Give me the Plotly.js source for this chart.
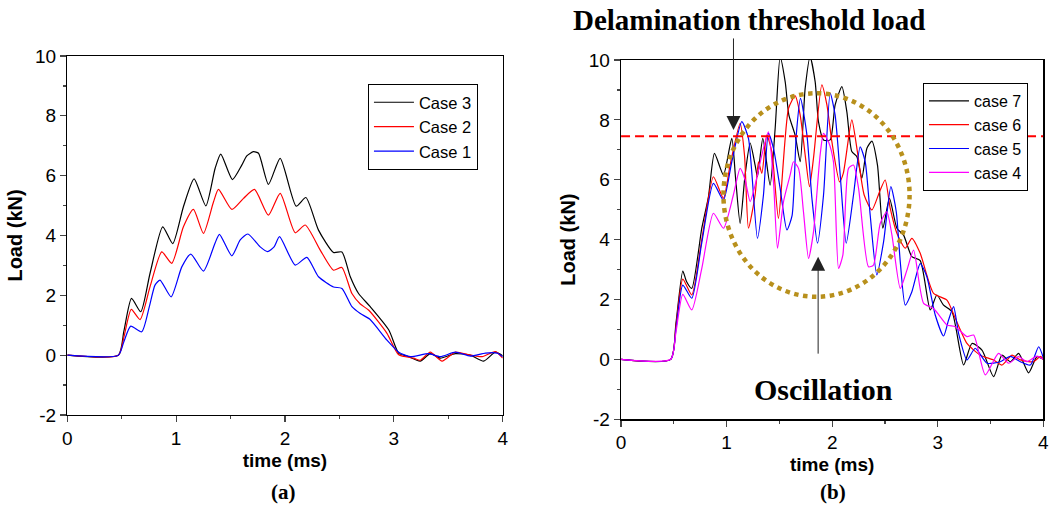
<!DOCTYPE html>
<html>
<head>
<meta charset="utf-8">
<script src="https://cdn.plot.ly/plotly-3.0.1.min.js"></script>
<style>html,body{margin:0;padding:0;background:#fff;}#chart{width:1051px;height:508px;}</style>
</head>
<body>
<div id="chart"></div>
<script>
// ---------- Panel (a) ----------
const tCase3 = [0,0.47,0.52,0.59,0.675,0.76,0.877,0.969,1.067,1.165,1.273,1.358,1.41,1.517,1.603,1.649,1.71,1.757,1.848,1.956,2.103,2.192,2.308,2.446,2.523,2.6,2.676,2.783,2.954,3.045,3.121,3.243,3.335,3.427,3.565,3.703,3.825,3.933,4.0];
const loadCase3 = [0,0,0.8,1.9,1.45,2.73,4.29,3.73,4.96,5.89,4.99,6.24,6.72,5.87,6.35,6.66,6.80,6.75,5.71,6.58,4.98,5.27,4.18,3.43,3.45,2.62,2.06,1.62,0.84,0.06,-0.03,-0.2,0.05,-0.1,0.05,0.0,-0.2,0.1,-0.02];

const tCase2 = [0,0.47,0.52,0.588,0.669,0.76,0.868,0.96,1.067,1.159,1.251,1.343,1.389,1.512,1.619,1.72,1.848,1.956,2.094,2.186,2.324,2.446,2.523,2.615,2.692,2.77,2.937,3.045,3.182,3.243,3.335,3.443,3.565,3.703,3.811,3.933,4.0];
const loadCase2 = [0,0,0.6,1.53,1.19,2.28,3.45,3.07,4.29,4.87,4.07,5.12,5.54,4.87,5.24,5.54,4.68,5.41,4.09,4.35,3.51,2.84,2.93,2.06,1.71,1.5,0.73,0.01,-0.1,-0.17,0.1,-0.2,0.1,0.0,-0.05,0.12,-0.1];

const tCase1 = [0,0.47,0.52,0.583,0.684,0.754,0.806,0.852,0.954,1.052,1.135,1.251,1.358,1.398,1.512,1.589,1.659,1.772,1.84,1.9,1.95,2.094,2.201,2.308,2.446,2.523,2.615,2.692,2.78,2.937,3.045,3.151,3.32,3.427,3.565,3.703,3.841,3.949,4.0];
const loadCase1 = [0,0,0.45,0.97,0.78,1.62,2.34,2.51,1.95,2.95,3.38,2.81,3.75,4.04,3.32,3.85,4.05,3.62,3.46,3.62,3.96,3.01,3.27,2.62,2.28,2.23,1.62,1.39,1.2,0.5,0.1,-0.05,0.05,-0.05,0.1,-0.03,0.07,0.07,-0.05];

// ---------- Panel (b) ----------
const tCase7 = [0,0.47,0.52,0.585,0.62,0.67,0.765,0.828,0.885,0.97,1.049,1.085,1.128,1.175,1.223,1.27,1.292,1.343,1.412,1.46,1.507,1.555,1.59,1.649,1.697,1.744,1.791,1.839,1.87,1.918,1.981,2.028,2.092,2.139,2.186,2.234,2.281,2.329,2.376,2.429,2.48,2.543,2.613,2.676,2.755,2.834,2.929,2.992,3.055,3.135,3.245,3.324,3.419,3.529,3.608,3.687,3.766,3.861,3.94,4.0];
const loadCase7 = [0,0,1.2,2.95,2.6,2.37,4.38,5.43,6.88,6.16,7.38,6.05,4.54,6.16,7.22,6.49,6.10,7.38,5.82,7.72,10.1,9.27,8.16,7.49,6.60,9.05,10.1,9.27,7.94,7.33,7.33,8.50,9.11,8.27,6.94,6.77,6.05,7.05,7.29,6.49,4.38,5.38,4.38,4.15,3.43,3.3,1.65,2.15,1.81,1.59,-0.19,0.53,0.31,-0.58,0.14,-0.08,0.2,-0.45,0.09,0.0];

const tCase6 = [0,0.47,0.52,0.585,0.67,0.765,0.875,0.97,1.033,1.128,1.17,1.207,1.27,1.302,1.334,1.381,1.43,1.491,1.586,1.649,1.697,1.744,1.785,1.823,1.902,1.95,1.997,2.07,2.105,2.186,2.234,2.303,2.376,2.449,2.502,2.55,2.613,2.692,2.755,2.834,2.961,3.087,3.166,3.277,3.403,3.529,3.608,3.703,3.782,3.908,3.972,4.0];
const loadCase6 = [0,0,1.1,2.68,2.15,4.0,6.10,5.38,6.49,7.88,6.8,4.38,5.49,6.60,6.21,7.49,6.9,4.71,8.38,8.8,8.16,6.83,5.77,6.72,9.17,8.50,7.27,5.93,6.21,8.00,7.05,5.49,4.99,5.60,5.99,5.04,4.21,3.71,4.04,3.54,2.2,1.98,1.37,0.53,0.14,-0.02,-0.19,0.14,-0.02,-0.08,0.1,0.0];

const tCase5 = [0,0.47,0.52,0.585,0.67,0.765,0.875,0.97,1.049,1.144,1.207,1.292,1.349,1.396,1.444,1.507,1.571,1.62,1.66,1.70,1.761,1.808,1.861,1.918,1.981,2.028,2.076,2.133,2.202,2.265,2.313,2.36,2.423,2.487,2.556,2.607,2.645,2.692,2.755,2.834,2.897,2.976,3.055,3.102,3.15,3.197,3.277,3.355,3.466,3.592,3.687,3.782,3.877,3.956,4.0];
const loadCase5 = [0,0,1.0,2.48,2.04,3.9,5.88,5.32,6.60,7.94,7.38,4.04,5.49,7.55,7.05,5.71,4.32,4.8,7.5,8.72,7.49,5.38,3.88,5.49,8.89,8.16,6.16,3.88,5.49,7.10,6.60,4.82,2.82,3.93,5.77,4.93,3.26,1.81,2.26,3.2,2.76,1.48,0.78,1.31,1.76,0.87,-0.02,0.37,-0.13,-0.08,0.1,-0.08,-0.19,0.42,0.05];

const tCase4 = [0,0.47,0.52,0.585,0.67,0.765,0.875,0.97,1.064,1.128,1.175,1.223,1.27,1.334,1.396,1.444,1.482,1.539,1.602,1.633,1.681,1.728,1.776,1.823,1.886,1.918,1.965,2.012,2.06,2.101,2.155,2.202,2.25,2.344,2.391,2.455,2.518,2.566,2.645,2.708,2.771,2.866,2.961,3.087,3.166,3.277,3.34,3.45,3.576,3.671,3.766,3.845,3.94,4.0];
const loadCase4 = [0,0,0.9,2.17,1.65,3.04,4.88,4.38,5.49,6.38,6.0,5.27,5.82,6.83,7.60,5.93,3.71,5.27,6.16,6.60,6.38,4.93,3.37,4.26,6.83,7.55,7.27,6.60,3.04,3.48,6.38,6.49,5.71,3.09,3.15,4.54,4.93,4.15,2.37,2.98,3.65,1.87,1.70,1.15,1.09,0.76,0.81,-0.52,0.2,-0.13,0.09,-0.08,0.11,0.0];

const thresholdLoad = 7.45;
const xTicks = [0,1,2,3,4];
const xTickText = ['0','1','2','3','4'];
const yTicks = [-2,0,2,4,6,8,10];
const yTickText = ['-2','0','2','4','6','8','10'];

const sans = 'Liberation Sans, Arial, sans-serif';
const serif = 'Liberation Serif, Times New Roman, serif';

function tr(x, y, name, color, xa, ya, leg) {
  return {x: x, y: y, name: name, type: 'scatter', mode: 'lines',
    line: {color: color, width: 1.2, shape: 'spline', smoothing: 0.6},
    xaxis: xa, yaxis: ya, legend: leg, hoverinfo: 'skip'};
}

const data = [
  tr(tCase3, loadCase3, 'Case 3', '#000000', 'x', 'y', 'legend'),
  tr(tCase2, loadCase2, 'Case 2', '#ff0000', 'x', 'y', 'legend'),
  tr(tCase1, loadCase1, 'Case 1', '#0000ff', 'x', 'y', 'legend'),
  tr(tCase7, loadCase7, 'case 7', '#000000', 'x2', 'y2', 'legend2'),
  tr(tCase6, loadCase6, 'case 6', '#ff0000', 'x2', 'y2', 'legend2'),
  tr(tCase5, loadCase5, 'case 5', '#0000ff', 'x2', 'y2', 'legend2'),
  tr(tCase4, loadCase4, 'case 4', '#ff00ff', 'x2', 'y2', 'legend2')
];

function mainX(domain, anchor) {
  return {domain: domain, anchor: anchor, range: [0,4], tickmode: 'array', tickvals: xTicks, ticktext: xTickText,
    ticks: 'outside', ticklen: 6, tickwidth: 1.2,
    minor: {ticks: 'outside', ticklen: 3, dtick: 0.5, tick0: 0, tickwidth: 1.2},
    showline: true, linecolor: '#000', linewidth: 1.3, mirror: true, showgrid: false, zeroline: false,
    tickfont: {family: sans, size: 19, color: '#000'},
    title: {text: 'time (ms)', font: {family: sans, size: 19, color: '#000', weight: 'bold'}, standoff: 5}};
}
function mainY(domain, anchor) {
  return {domain: domain, anchor: anchor, range: [-2,10], tickmode: 'array', tickvals: yTicks, ticktext: yTickText,
    ticks: 'outside', ticklen: 6, tickwidth: 1.2,
    minor: {ticks: 'outside', ticklen: 3, dtick: 1, tick0: 0, tickwidth: 1.2},
    showline: true, linecolor: '#000', linewidth: 1.3, mirror: true, showgrid: false, zeroline: false,
    tickfont: {family: sans, size: 19, color: '#000'},
    title: {text: 'Load (kN)', font: {family: sans, size: 20, color: '#000', weight: 'bold'}, standoff: 7}};
}
function mirrorX(over, anchor) {
  return {overlaying: over, anchor: anchor, side: 'top', range: [0,4], tickmode: 'array', tickvals: xTicks, ticks: 'inside', ticklen: 6, tickwidth: 1.2,
    minor: {ticks: 'inside', ticklen: 3, dtick: 0.5, tick0: 0, tickwidth: 1.2},
    showticklabels: false, showline: false, showgrid: false, zeroline: false};
}
function mirrorY(over, anchor) {
  return {overlaying: over, anchor: anchor, side: 'right', range: [-2,10], tickmode: 'array', tickvals: yTicks, ticks: 'inside', ticklen: 6, tickwidth: 1.2,
    minor: {ticks: 'inside', ticklen: 3, dtick: 1, tick0: 0, tickwidth: 1.2},
    showticklabels: false, showline: false, showgrid: false, zeroline: false};
}

const legendStyle = (x, y, size) => ({x: x, y: y, xanchor: 'left', yanchor: 'top', bgcolor: '#fff', bordercolor: '#000', borderwidth: 1,
  font: {family: sans, size: size, color: '#000'}, itemwidth: 40, tracegroupgap: 0});

const layout = {
  width: 1051, height: 508, margin: {l: 0, r: 0, t: 0, b: 0},
  paper_bgcolor: '#fff', plot_bgcolor: '#fff', showlegend: true,
  xaxis: mainX([0.064, 0.4783], 'y'),
  yaxis: mainY([0.1831, 0.8898], 'x'),
  xaxis2: mainX([0.5909, 0.9927], 'y2'),
  yaxis2: mainY([0.1748, 0.8819], 'x2'),
  xaxis3: mirrorX('x', 'y'),
  yaxis3: mirrorY('y', 'x'),
  xaxis4: mirrorX('x2', 'y2'),
  yaxis4: mirrorY('y2', 'x2'),
  legend: legendStyle(0.3501, 0.8346, 16.5),
  legend2: legendStyle(0.8782, 0.8366, 16),
  shapes: [
    {type: 'line', xref: 'x2', yref: 'y2', x0: 0, x1: 4, y0: thresholdLoad, y1: thresholdLoad,
      line: {color: '#ff0000', width: 2, dash: '9px,5px'}},
    {type: 'circle', xref: 'x2', yref: 'y2', x0: 0.97, x1: 2.733, y0: 2.09, y1: 8.89,
      line: {color: '#b8901c', width: 4.5, dash: 'dot'}}
  ],
  annotations: [
    {xref: 'paper', yref: 'paper', x: 0.7127, y: 0.9606, xanchor: 'center', yanchor: 'middle', showarrow: false,
      text: 'Delamination threshold load', font: {family: serif, size: 29, color: '#000', weight: 'bold'}},
    {xref: 'x2', yref: 'y2', x: 1.065, y: 7.66, axref: 'x2', ayref: 'y2', ax: 1.065, ay: 10.77, text: '',
      showarrow: true, arrowhead: 2, arrowsize: 2.8, arrowwidth: 1, arrowcolor: '#222'},
    {xref: 'paper', yref: 'paper', x: 0.7840, y: 0.2323, xanchor: 'center', yanchor: 'middle', showarrow: false,
      text: 'Oscillation', font: {family: serif, size: 30, color: '#000', weight: 'bold'}},
    {xref: 'x2', yref: 'y2', x: 1.867, y: 3.43, axref: 'x2', ayref: 'y2', ax: 1.867, ay: 0.14, text: '',
      showarrow: true, arrowhead: 2, arrowsize: 2.8, arrowwidth: 1, arrowcolor: '#222'},
    {xref: 'paper', yref: 'paper', x: 0.2702, y: 0.0315, xanchor: 'center', yanchor: 'middle', showarrow: false,
      text: '(a)', font: {family: serif, size: 21, color: '#000', weight: 'bold'}},
    {xref: 'paper', yref: 'paper', x: 0.7926, y: 0.0315, xanchor: 'center', yanchor: 'middle', showarrow: false,
      text: '(b)', font: {family: serif, size: 21, color: '#000', weight: 'bold'}}
  ]
};

Plotly.newPlot('chart', data, layout, {staticPlot: true, displayModeBar: false});
</script>
</body>
</html>
